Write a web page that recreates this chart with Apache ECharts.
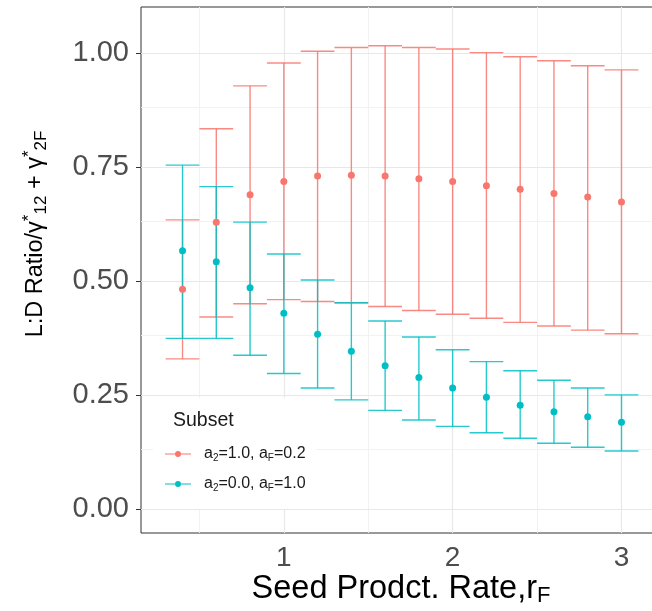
<!DOCTYPE html>
<html>
<head>
<meta charset="utf-8">
<script src="https://cdn.jsdelivr.net/npm/echarts@6/dist/echarts.min.js"></script>
<style>
  html, body { margin: 0; padding: 0; background: #fff; }
  #chart { width: 652px; height: 611px; }
</style>
</head>
<body>
<div id="chart"></div>
<script>
  // seed production rate r_F
  var xVals = [0.4, 0.6, 0.8, 1.0, 1.2, 1.4, 1.6, 1.8, 2.0, 2.2, 2.4, 2.6, 2.8, 3.0];

  // a2=1.0, aF=0.2
  var redMean = [0.482, 0.629, 0.689, 0.718, 0.730, 0.732, 0.730, 0.724, 0.718, 0.709, 0.701, 0.692, 0.684, 0.673];
  var redLow  = [0.329, 0.421, 0.450, 0.459, 0.455, 0.452, 0.444, 0.435, 0.427, 0.418, 0.409, 0.401, 0.392, 0.384];
  var redHigh = [0.634, 0.834, 0.928, 0.978, 1.004, 1.012, 1.016, 1.012, 1.009, 1.001, 0.992, 0.983, 0.972, 0.963];

  // a2=0.0, aF=1.0
  var cyanMean = [0.566, 0.542, 0.485, 0.429, 0.383, 0.346, 0.314, 0.288, 0.265, 0.245, 0.227, 0.213, 0.202, 0.190];
  var cyanLow  = [0.374, 0.374, 0.337, 0.297, 0.265, 0.239, 0.216, 0.195, 0.181, 0.167, 0.155, 0.144, 0.135, 0.127];
  var cyanHigh = [0.754, 0.707, 0.629, 0.559, 0.502, 0.452, 0.412, 0.377, 0.349, 0.323, 0.303, 0.282, 0.265, 0.250];

  // axis ticks / grid lines
  var xTicks = [1, 2, 3];
  var xMinor = [0.5, 1.5, 2.5];
  var yTicks = [0, 0.25, 0.5, 0.75, 1.0];
  var yMinor = [0.125, 0.375, 0.625, 0.875];

  var seriesNames = ['a2=1.0, aF=0.2', 'a2=0.0, aF=1.0'];
  var legendRich = {
    'a2=1.0, aF=0.2': '{f|a}{s|2}{n|=1.0, a}{s|F}{n|=0.2}',
    'a2=0.0, aF=1.0': '{f|a}{s|2}{n|=0.0, a}{s|F}{n|=1.0}'
  };

  var RED = '#F8766D', CYAN = '#00BFC4';
  var FONT = 'Liberation Sans, Arial, sans-serif';
  var capHalf = 0.1;
  var legendIcon = 'path://M0,3.4h10v1.2h-10z M16,3.4h10v1.2h-10z M10,4a3,3 0 1,0 6,0a3,3 0 1,0 -6,0z';

  function errData(lo, hi) {
    return xVals.map(function (x, i) { return [x, lo[i], hi[i]]; });
  }
  function ptData(m) {
    return xVals.map(function (x, i) { return [x, m[i]]; });
  }

  function renderErr(params, api) {
    var x = api.value(0), lo = api.value(1), hi = api.value(2);
    var top = api.coord([x, hi]);
    var bot = api.coord([x, lo]);
    var l = api.coord([x - capHalf, hi])[0];
    var r = api.coord([x + capHalf, hi])[0];
    var st = { stroke: api.visual('color'), lineWidth: 1.4, opacity: 0.85 };
    return {
      type: 'group',
      children: [
        { type: 'line', shape: { x1: top[0], y1: top[1], x2: bot[0], y2: bot[1] }, style: st },
        { type: 'line', shape: { x1: l, y1: top[1], x2: r, y2: top[1] }, style: st },
        { type: 'line', shape: { x1: l, y1: bot[1], x2: r, y2: bot[1] }, style: st }
      ]
    };
  }

  var gridLines = []
    .concat(xMinor.map(function (v) { return { xAxis: v, lineStyle: { color: '#F0F0F0', width: 0.9 } }; }))
    .concat(yMinor.map(function (v) { return { yAxis: v, lineStyle: { color: '#F0F0F0', width: 0.9 } }; }))
    .concat(xTicks.map(function (v) { return { xAxis: v, lineStyle: { color: '#E8E8E8', width: 1.2 } }; }))
    .concat(yTicks.map(function (v) { return { yAxis: v, lineStyle: { color: '#E8E8E8', width: 1.2 } }; }));

  var chart = echarts.init(document.getElementById('chart'));
  var option = {
    animation: false,
    backgroundColor: '#fff',
    textStyle: { fontFamily: FONT },
    grid: {
      left: 141, top: 7, right: -10, bottom: 78,
      show: true, borderColor: '#333', borderWidth: 1, backgroundColor: '#fff',
      outerBoundsMode: 'none'
    },
    xAxis: {
      type: 'value', min: 0.154, max: 3.24,
      splitLine: { show: false },
      axisLine: { show: false },
      axisTick: { show: true, customValues: xTicks, length: 5, lineStyle: { color: '#333', width: 1 } },
      axisLabel: { customValues: xTicks, fontSize: 28, color: '#4D4D4D', margin: 11, fontFamily: FONT }
    },
    yAxis: {
      type: 'value', min: -0.053, max: 1.101,
      splitLine: { show: false },
      axisLine: { show: false },
      axisTick: { show: true, customValues: yTicks, length: 5, lineStyle: { color: '#333', width: 1 } },
      axisLabel: {
        customValues: yTicks, fontSize: 29, color: '#4D4D4D', margin: 12, fontFamily: FONT,
        padding: [8, 0, 0, 0],
        formatter: function (v) { return v.toFixed(2); }
      }
    },
    legend: {
      orient: 'vertical',
      left: 153, top: 398,
      padding: [48, 10, 16, 12],
      backgroundColor: '#fff',
      itemWidth: 26, itemHeight: 6, itemGap: 13,
      data: seriesNames.map(function (n) { return { name: n, icon: legendIcon }; }),
      formatter: function (name) { return legendRich[name]; },
      textStyle: {
        fontFamily: FONT, fontSize: 16, color: '#1A1A1A',
        rich: {
          f: { fontSize: 16, color: '#1A1A1A', padding: [0, 0, 0, 8], fontFamily: FONT },
          n: { fontSize: 16, color: '#1A1A1A', fontFamily: FONT },
          s: { fontSize: 10, color: '#1A1A1A', padding: [8, 0, 0, 0], fontFamily: FONT }
        }
      }
    },
    graphic: [
      {
        type: 'text', z: 100, left: 173, top: 411,
        style: { text: 'Subset', fontSize: 19.5, fontFamily: FONT, fill: '#1A1A1A' }
      },
      {
        type: 'text', z: 100, x: 401, y: 589,
        style: {
          text: '{t|Seed Prodct. Rate,r}{s|F}',
          align: 'center', verticalAlign: 'middle',
          rich: {
            t: { fontSize: 32.5, fontFamily: FONT, fill: '#000' },
            s: { fontSize: 22, fontFamily: FONT, fill: '#000', padding: [14, 0, 0, 0] }
          }
        }
      },
      {
        type: 'text', z: 100, x: 36, y: 234, rotation: Math.PI / 2,
        style: {
          text: '{t|L:D Ratio/γ}{p|*}{s|12}{t| + γ}{p|*}{s|2F}',
          align: 'center', verticalAlign: 'middle',
          rich: {
            t: { fontSize: 23.5, fontFamily: FONT, fill: '#000' },
            s: { fontSize: 17, fontFamily: FONT, fill: '#000', padding: [11, 0, 0, 0] },
            p: { fontSize: 17, fontFamily: FONT, fill: '#000', padding: [0, 0, 13, 0] }
          }
        }
      }
    ],
    series: [
      {
        name: 'gridlines', type: 'line', data: [], z: 1, silent: true,
        markLine: {
          z: 1, silent: true, symbol: ['none', 'none'], label: { show: false },
          lineStyle: { type: 'solid' }, data: gridLines
        }
      },
      {
        name: 'err-red', type: 'custom', z: 2, renderItem: renderErr,
        itemStyle: { color: RED },
        encode: { x: 0, y: [1, 2] },
        data: errData(redLow, redHigh)
      },
      {
        name: 'err-cyan', type: 'custom', z: 2, renderItem: renderErr,
        itemStyle: { color: CYAN },
        encode: { x: 0, y: [1, 2] },
        data: errData(cyanLow, cyanHigh)
      },
      {
        name: seriesNames[0], type: 'scatter', z: 3, symbolSize: 7,
        itemStyle: { color: RED, opacity: 1 },
        data: ptData(redMean)
      },
      {
        name: seriesNames[1], type: 'scatter', z: 3, symbolSize: 7,
        itemStyle: { color: CYAN, opacity: 1 },
        data: ptData(cyanMean)
      }
    ]
  };
  chart.setOption(option);
</script>
</body>
</html>
